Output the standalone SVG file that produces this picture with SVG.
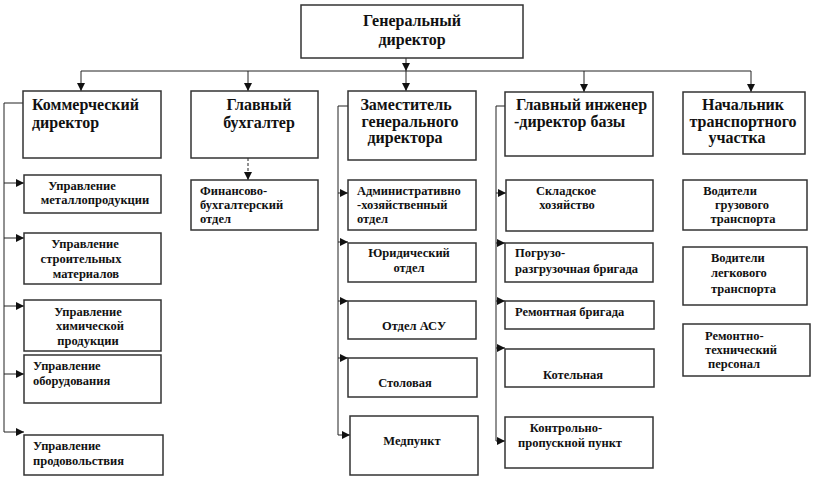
<svg xmlns="http://www.w3.org/2000/svg" width="815" height="478" viewBox="0 0 815 478" font-family="'Liberation Serif', 'DejaVu Serif', serif">
<defs>
<marker id="ah" viewBox="0 0 10 10" refX="10" refY="5" markerWidth="8" markerHeight="8" markerUnits="userSpaceOnUse" orient="auto">
<path d="M0,0 L10,5 L0,10 z" fill="#111"/>
</marker>
</defs>
<style>
.box{fill:#fff;stroke:#333;stroke-width:1.5}
.ln{fill:none;stroke:#222;stroke-width:1}
text{font-weight:bold;fill:#111}
.t1{font-size:16px}
.t2{font-size:12.5px}
.c{text-anchor:middle}
</style>
<rect width="815" height="478" fill="#fff"/>
<g id="connectors">
<line class="ln" x1="81" y1="71" x2="751" y2="71"/>
<line class="ln" x1="406" y1="58" x2="406" y2="71" marker-end="url(#ah)"/>
<line class="ln" x1="406" y1="71" x2="406" y2="91" marker-end="url(#ah)"/>
<line class="ln" x1="81" y1="71" x2="81" y2="91" marker-end="url(#ah)"/>
<line class="ln" x1="248" y1="71" x2="248" y2="91" marker-end="url(#ah)"/>
<line class="ln" x1="584" y1="71" x2="584" y2="92" marker-end="url(#ah)"/>
<line class="ln" x1="751" y1="71" x2="751" y2="92" marker-end="url(#ah)"/>
<line class="ln" x1="248" y1="158" x2="248" y2="180" stroke-dasharray="3,2" marker-end="url(#ah)"/>
<polyline class="ln" points="23,103 4,103 4,432"/>
<line class="ln" x1="4" y1="183" x2="24" y2="183" marker-end="url(#ah)"/>
<line class="ln" x1="4" y1="238" x2="24" y2="238" marker-end="url(#ah)"/>
<line class="ln" x1="4" y1="306" x2="24" y2="306" marker-end="url(#ah)"/>
<line class="ln" x1="4" y1="374" x2="24" y2="374" marker-end="url(#ah)"/>
<line class="ln" x1="4" y1="432" x2="24" y2="432" marker-end="url(#ah)"/>
<polyline class="ln" points="348,106 338,106 338,435"/>
<line class="ln" x1="338" y1="193" x2="348" y2="193" marker-end="url(#ah)"/>
<line class="ln" x1="338" y1="242" x2="348" y2="242" marker-end="url(#ah)"/>
<line class="ln" x1="338" y1="301" x2="348" y2="301" marker-end="url(#ah)"/>
<line class="ln" x1="338" y1="358" x2="348" y2="358" marker-end="url(#ah)"/>
<line class="ln" x1="338" y1="435" x2="350" y2="435" marker-end="url(#ah)"/>
<polyline class="ln" points="505,106 496,106 496,441"/>
<line class="ln" x1="496" y1="193" x2="506" y2="193" marker-end="url(#ah)"/>
<line class="ln" x1="496" y1="243" x2="505" y2="243" marker-end="url(#ah)"/>
<line class="ln" x1="496" y1="301" x2="505" y2="301" marker-end="url(#ah)"/>
<line class="ln" x1="496" y1="348" x2="505" y2="348" marker-end="url(#ah)"/>
<line class="ln" x1="496" y1="441" x2="505" y2="441" marker-end="url(#ah)"/>
</g>
<g id="gen">
<rect class="box" x="301" y="5" width="222" height="53"/>
<text class="t1 c" x="412" y="26">Генеральный</text>
<text class="t1 c" x="412" y="45">директор</text>
</g>
<g id="kom">
<rect class="box" x="23" y="91" width="138" height="67"/>
<text class="t1" x="32" y="110">Коммерческий</text>
<text class="t1" x="32" y="128">директор</text>
</g>
<g id="buh">
<rect class="box" x="191" y="91" width="127" height="67"/>
<text class="t1 c" x="259" y="110">Главный</text>
<text class="t1 c" x="259" y="128">бухгалтер</text>
</g>
<g id="zam">
<rect class="box" x="348" y="91" width="128" height="69"/>
<text class="t1 c" x="406" y="110">Заместитель</text>
<text class="t1 c" x="410" y="127">генерального</text>
<text class="t1 c" x="405" y="143">директора</text>
</g>
<g id="ing">
<rect class="box" x="505" y="92" width="148" height="64"/>
<text class="t1" x="516" y="110">Главный инженер</text>
<text class="t1" x="514" y="127">-директор базы</text>
</g>
<g id="nach">
<rect class="box" x="683" y="92" width="122" height="62"/>
<text class="t1 c" x="743" y="110">Начальник</text>
<text class="t1 c" x="743" y="127">транспортного</text>
<text class="t1 c" x="737" y="143">участка</text>
</g>
<g id="k1">
<rect class="box" x="24" y="175" width="137" height="38"/>
<text class="t2 c" x="82" y="190">Управление</text>
<text class="t2 c" x="95" y="204">металлопродукции</text>
</g>
<g id="k2">
<rect class="box" x="24" y="233" width="137" height="51"/>
<text class="t2 c" x="85" y="248">Управление</text>
<text class="t2 c" x="81" y="263">строительных</text>
<text class="t2 c" x="86" y="278">материалов</text>
</g>
<g id="k3">
<rect class="box" x="24" y="300" width="137" height="51"/>
<text class="t2 c" x="88" y="316">Управление</text>
<text class="t2 c" x="90" y="330">химической</text>
<text class="t2 c" x="88" y="345">продукции</text>
</g>
<g id="k4">
<rect class="box" x="24" y="355" width="137" height="48"/>
<text class="t2" x="33" y="370">Управление</text>
<text class="t2" x="33" y="385">оборудования</text>
</g>
<g id="k5">
<rect class="box" x="24" y="435" width="139" height="40"/>
<text class="t2" x="33" y="450">Управление</text>
<text class="t2" x="33" y="465">продовольствия</text>
</g>
<g id="b1">
<rect class="box" x="191" y="180" width="127" height="50"/>
<text class="t2" x="200" y="195">Финансово-</text>
<text class="t2" x="200" y="209">бухгалтерский</text>
<text class="t2" x="200" y="223">отдел</text>
</g>
<g id="z1">
<rect class="box" x="348" y="180" width="128" height="50"/>
<text class="t2" x="357" y="195">Административно</text>
<text class="t2" x="357" y="209">-хозяйственный</text>
<text class="t2" x="357" y="223">отдел</text>
</g>
<g id="z2">
<rect class="box" x="348" y="243" width="128" height="39"/>
<text class="t2 c" x="409" y="257">Юридический</text>
<text class="t2 c" x="409" y="272">отдел</text>
</g>
<g id="z3">
<rect class="box" x="348" y="301" width="128" height="38"/>
<text class="t2 c" x="414" y="330">Отдел АСУ</text>
</g>
<g id="z4">
<rect class="box" x="348" y="358" width="129" height="39"/>
<text class="t2 c" x="405" y="387">Столовая</text>
</g>
<g id="z5">
<rect class="box" x="350" y="416" width="128" height="59"/>
<text class="t2 c" x="412" y="445">Медпункт</text>
</g>
<g id="i1">
<rect class="box" x="506" y="180" width="147" height="51"/>
<text class="t2 c" x="566" y="195">Складское</text>
<text class="t2 c" x="567" y="209">хозяйство</text>
</g>
<g id="i2">
<rect class="box" x="505" y="243" width="148" height="39"/>
<text class="t2" x="515" y="257">Погрузо-</text>
<text class="t2" x="515" y="273">разгрузочная бригада</text>
</g>
<g id="i3">
<rect class="box" x="505" y="301" width="149" height="28"/>
<text class="t2" x="515" y="316">Ремонтная бригада</text>
</g>
<g id="i4">
<rect class="box" x="505" y="349" width="149" height="38"/>
<text class="t2 c" x="573" y="379">Котельная</text>
</g>
<g id="i5">
<rect class="box" x="505" y="417" width="148" height="51"/>
<text class="t2 c" x="566" y="432">Контрольно-</text>
<text class="t2 c" x="570" y="447">пропускной пункт</text>
</g>
<g id="n1">
<rect class="box" x="683" y="180" width="124" height="50"/>
<text class="t2 c" x="730" y="195">Водители</text>
<text class="t2 c" x="742" y="209">грузового</text>
<text class="t2 c" x="743" y="223">транспорта</text>
</g>
<g id="n2">
<rect class="box" x="683" y="247" width="124" height="58"/>
<text class="t2" x="711" y="262">Водители</text>
<text class="t2" x="711" y="277">легкового</text>
<text class="t2" x="711" y="293">транспорта</text>
</g>
<g id="n3">
<rect class="box" x="683" y="324" width="127" height="52"/>
<text class="t2" x="705" y="340">Ремонтно-</text>
<text class="t2" x="705" y="354">технический</text>
<text class="t2" x="708" y="368">персонал</text>
</g>
</svg>
